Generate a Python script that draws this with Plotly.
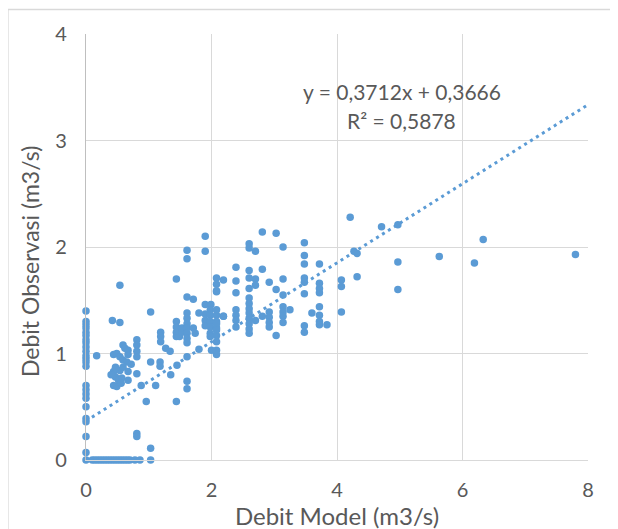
import plotly.graph_objects as go

# ---- data ----
debit_model = [
    0, 0, 0, 0, 0, 0, 0, 0, 0, 0, 0, 0, 0, 0, 0, 0, 0, 0, 0, 0, 0, 0, 0, 0,
    0.10, 0.14, 0.18, 0.22, 0.26, 0.30, 0.34, 0.38, 0.42, 0.46, 0.50, 0.54, 0.58, 0.62, 0.66, 0.70, 0.78, 0.86, 1.03,
    1.03, 0.42, 0.54, 0.54, 0.17,
    0.59, 0.81, 0.81, 0.81, 0.81, 0.81, 0.67, 0.67, 0.44, 0.49, 0.54, 0.59, 0.65, 0.44, 0.47, 0.44, 0.49, 0.52, 0.57,
    0.67, 0.67, 0.54, 0.47, 0.59, 0.40, 0.62, 0.72, 0.56,
    1.03, 0.88, 0.96, 0.81, 0.81, 1.03,
    1.18, 1.18, 1.11, 1.44, 1.35, 1.45, 1.61, 1.61,
    1.19, 1.19, 1.19, 1.27, 1.34,
    1.44, 1.44, 1.44, 1.44, 1.49, 1.53, 1.53,
    1.61, 1.71, 1.61, 1.61, 1.61, 1.61, 1.61, 1.61, 1.61, 1.61,
    1.80, 1.71, 1.74, 1.80,
    1.90, 1.99, 1.90, 1.90, 1.90,
    1.98, 1.98, 1.98, 1.98, 1.98, 1.98,
    2.08, 2.08, 2.08, 2.08, 2.08, 2.08, 2.08, 2.08,
    2.19, 2.00,
    1.90, 1.90, 1.61, 1.61, 1.44,
    2.81, 3.03, 2.60, 2.60, 2.70, 3.14, 3.48, 4.21,
    2.39, 2.60, 2.81,
    2.08, 2.08, 2.08, 2.19,
    2.39, 2.39, 2.60, 2.60, 2.70, 2.70, 2.92, 3.03, 3.14, 3.14,
    3.48, 3.48, 3.48, 3.48, 3.48,
    3.72, 3.72, 3.72, 3.72, 3.72, 3.72, 3.72, 3.72, 3.84, 3.60,
    4.07, 4.07, 4.07,
    3.48, 3.48, 3.03,
    3.14, 3.14, 3.14, 3.14, 3.25,
    2.92, 2.92, 2.92, 2.92, 2.81, 2.70,
    2.60, 2.60, 2.60, 2.60, 2.60, 2.60, 2.60, 2.60,
    2.39, 2.39, 2.39, 2.39, 2.19,
    2.08, 2.08, 2.08,
    4.71, 4.97, 4.32, 4.27, 4.97, 4.32, 4.97, 5.63, 6.33, 6.19, 7.80,
]

debit_observasi = [
    1.40, 1.30, 1.27, 1.24, 1.20, 1.17, 1.13, 1.10, 1.06, 1.02, 0.98, 0.95, 0.92, 0.88, 0.70, 0.66, 0.62, 0.58, 0.50, 0.39, 0.36, 0.22, 0.07, 0.00,
    0, 0, 0, 0, 0, 0, 0, 0, 0, 0, 0, 0, 0, 0, 0, 0, 0, 0, 0,
    1.39, 1.31, 1.29, 1.64, 0.98,
    1.08, 1.13, 1.08, 1.02, 0.97, 0.81, 1.03, 0.99, 0.99, 1.00, 0.97, 0.94, 0.92, 0.83, 0.78, 0.70, 0.69, 0.75, 0.77,
    0.83, 0.75, 0.84, 0.87, 0.87, 0.80, 1.05, 0.90, 0.72,
    0.92, 0.70, 0.55, 0.25, 0.22, 0.11,
    0.92, 0.88, 0.70, 0.55, 0.80, 0.89, 0.74, 0.67,
    1.20, 1.16, 1.11, 1.05, 1.02,
    1.30, 1.25, 1.20, 1.16, 1.16, 1.20, 1.24,
    1.53, 1.51, 1.38, 1.33, 1.28, 1.24, 1.19, 1.14, 1.10, 0.97,
    1.38, 1.24, 1.19, 1.04,
    1.46, 1.46, 1.31, 1.26, 1.37,
    1.41, 1.36, 1.30, 1.25, 1.19, 1.16,
    1.58, 1.36, 1.30, 1.24, 1.17, 1.11, 1.03, 0.99,
    1.35, 1.03,
    2.10, 1.96, 1.97, 1.89, 1.70,
    2.14, 2.13, 2.03, 1.99, 1.96, 2.00, 2.04, 2.28,
    1.81, 1.78, 1.79,
    1.71, 1.65, 1.59, 1.69,
    1.68, 1.57, 1.71, 1.61, 1.70, 1.64, 1.67, 1.60, 1.70, 1.55,
    1.92, 1.84, 1.71, 1.67, 1.56,
    1.84, 1.66, 1.61, 1.57, 1.44, 1.36, 1.30, 1.27, 1.27, 1.38,
    1.69, 1.63, 1.39,
    1.26, 1.20, 1.17,
    1.44, 1.39, 1.35, 1.29, 1.41,
    1.39, 1.34, 1.29, 1.25, 1.35, 1.31,
    1.52, 1.47, 1.42, 1.38, 1.33, 1.28, 1.23, 1.19,
    1.41, 1.36, 1.31, 1.25, 1.35,
    1.41, 1.28, 1.22,
    2.19, 2.21, 1.94, 1.96, 1.86, 1.72, 1.60, 1.91, 2.07, 1.85, 1.93,
]

trend_slope = 0.3712
trend_intercept = 0.3666
trend_x = [0, 8]
trend_y = [trend_intercept + trend_slope * v for v in trend_x]

x_ticks = [0, 2, 4, 6, 8]
y_ticks = [0, 1, 2, 3, 4]

x_title = "Debit Model (m3/s)"
y_title = "Debit Observasi (m3/s)"
equation_text = "y = 0,3712x + 0,3666"
r2_text = "R² = 0,5878"

BLUE = "#5B9BD5"
TXT = "#595959"
GRID = "#D9D9D9"
FONT = "Lato, 'Open Sans', sans-serif"

fig = go.Figure()

fig.add_trace(go.Scatter(
    x=trend_x, y=trend_y, mode="lines",
    line=dict(color=BLUE, width=3, dash="3px,4px"),
    hoverinfo="skip", showlegend=False,
))

fig.add_trace(go.Scatter(
    x=debit_model, y=debit_observasi, mode="markers",
    marker=dict(color=BLUE, size=7.5, line=dict(width=0)),
    showlegend=False, cliponaxis=False,
))

fig.add_annotation(x=5.03, y=3.46, text=equation_text, showarrow=False,
                   font=dict(size=21, color=TXT, family=FONT))
fig.add_annotation(x=5.03, y=3.19, text=r2_text, showarrow=False,
                   font=dict(size=21, color=TXT, family=FONT))

# y-axis title (placed like the reference, slightly below plot centre)
fig.add_annotation(xref="paper", yref="paper", x=-0.1116, y=0.467,
                   text=y_title, textangle=-90, showarrow=False,
                   xanchor="center", yanchor="middle",
                   font=dict(size=23, color=TXT, family=FONT))

# outer chart border
fig.add_shape(type="rect", xref="paper", yref="paper",
              x0=-0.1554, x1=1.3, y0=-0.3, y1=1.0575,
              line=dict(color=GRID, width=1.3), layer="below")

fig.update_layout(
    width=618, height=529,
    margin=dict(l=78, r=38, t=26, b=77),
    paper_bgcolor="white", plot_bgcolor="white",
    font=dict(family=FONT, color=TXT),
    xaxis=dict(
        range=[0, 8], tickvals=x_ticks, ticktext=[str(v) for v in x_ticks],
        showgrid=True, gridcolor=GRID, gridwidth=1.3,
        zeroline=False, showline=True, linecolor=GRID, linewidth=1.3,
        mirror=False, ticks="", ticklabelstandoff=12, automargin=False,
        tickfont=dict(size=20, color=TXT, family=FONT),
        title=dict(text=x_title, font=dict(size=24, color=TXT, family=FONT), standoff=4),
    ),
    yaxis=dict(
        range=[0, 4], tickvals=y_ticks, ticktext=[str(v) for v in y_ticks],
        showgrid=True, gridcolor=GRID, gridwidth=1.3,
        zeroline=False, showline=True, linecolor="#BFBFBF", linewidth=1.3,
        ticks="", ticklabelstandoff=14, automargin=False,
        tickfont=dict(size=20, color=TXT, family=FONT),
    ),
)

fig.write_html("out.html")
